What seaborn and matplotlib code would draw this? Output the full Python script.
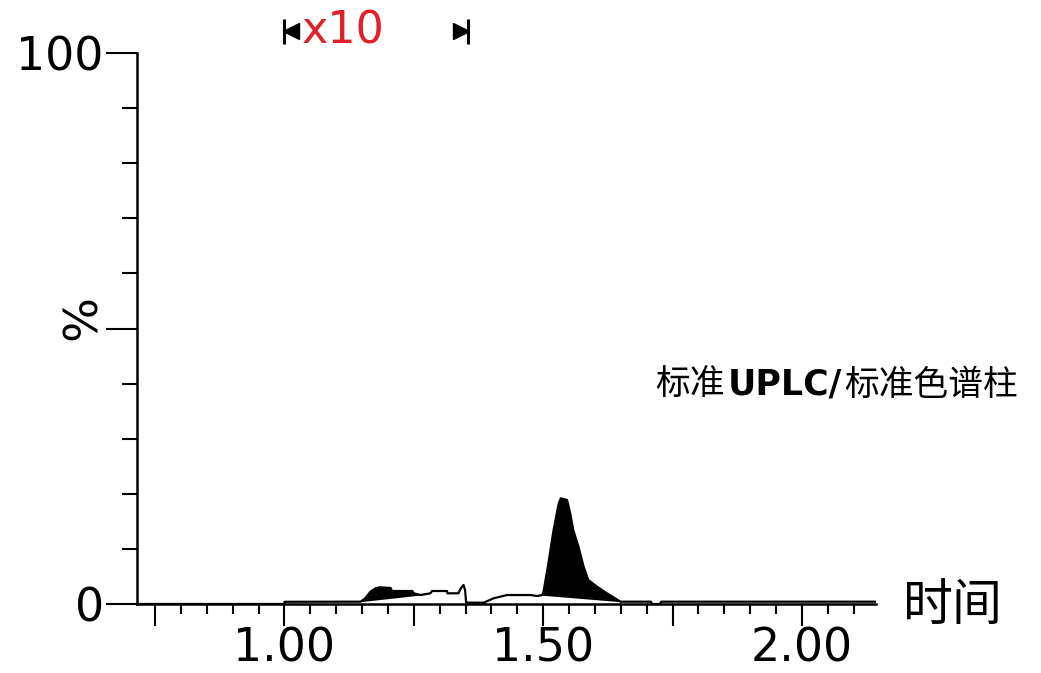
import numpy as np
import matplotlib
matplotlib.use("Agg")
import matplotlib.pyplot as plt
import matplotlib.transforms as mtransforms
from matplotlib.ticker import MultipleLocator
import seaborn as sns

# ---- data ----
times = [0.715, 1.000, 1.000, 1.147, 1.156, 1.166, 1.176, 1.184, 1.205, 1.208,
         1.247, 1.250, 1.263, 1.282, 1.285, 1.314, 1.315, 1.336, 1.341, 1.346,
         1.349, 1.351, 1.353, 1.385, 1.404, 1.430, 1.475, 1.488, 1.497, 1.500,
         1.510, 1.520, 1.530, 1.534, 1.546, 1.552, 1.558, 1.568, 1.578, 1.587,
         1.604, 1.623, 1.642, 1.649, 1.708, 1.710, 1.726, 1.728, 2.143]
intensity = [0.0, 0.0, 0.4, 0.42, 1.03, 2.23, 2.85, 3.03, 2.9, 2.36,
             2.36, 1.94, 1.63, 1.94, 2.36, 2.36, 1.94, 1.94, 2.9, 3.45,
             2.5, 0.24, 0.24, 0.24, 1.03, 1.63, 1.63, 1.45, 1.6, 1.94,
             7.39, 13.43, 18.28, 19.18, 18.87, 16.46, 13.43, 10.40, 6.77, 4.36,
             3.14, 1.94, 0.85, 0.42, 0.42, 0.0, 0.0, 0.42, 0.42]
peak_starts = [1.147, 1.497]
peak_ends = [1.263, 1.649]

x_major_ticks = [0.75, 1.00, 1.25, 1.50, 1.75, 2.00]
x_labeled_ticks = [1.00, 1.50, 2.00]
x_tick_labels = ["1.00", "1.50", "2.00"]
y_major_ticks = [0, 50, 100]
y_labeled_ticks = [0, 100]
y_tick_labels = ["0", "100"]

zoom_range = [1.00, 1.355]
zoom_label = "x10"
x_label = "时间"
y_label = "%"
annotation_parts = ["标准", "UPLC/", "标准色谱柱"]

# ---- style ----
sns.set_style("ticks")
plt.rcParams['font.family'] = ['DejaVu Sans', 'Noto Sans CJK SC']

W, H = 1041, 673
fig = plt.figure(figsize=(W / 100, H / 100), dpi=100)
ax = fig.add_axes([137 / W, 1 - 604 / H, (876 - 137) / W, (604 - 53) / H])

sns.lineplot(x=times, y=intensity, sort=False, estimator=None,
             color='black', linewidth=1.6, ax=ax)

# integrated peaks filled above a straight baseline
for s, e in zip(peak_starts, peak_ends):
    xx = np.linspace(s, e, 400)
    yy = np.interp(xx, times, intensity)
    base = np.linspace(yy[0], yy[-1], len(xx))
    ax.fill_between(xx, base, yy, color='black', linewidth=0)

ax.set_xlim(0.715, 2.143)
ax.set_ylim(0, 100)
for side in ['top', 'right']:
    ax.spines[side].set_visible(False)
for side in ['left', 'bottom']:
    ax.spines[side].set_linewidth(1.8)
    ax.spines[side].set_color('black')

ax.set_xticks(x_major_ticks)
ax.set_xticklabels([x_tick_labels[x_labeled_ticks.index(t)] if t in x_labeled_ticks else ""
                    for t in x_major_ticks])
ax.xaxis.set_minor_locator(MultipleLocator(0.05))
ax.set_yticks(y_major_ticks)
ax.set_yticklabels([y_tick_labels[y_labeled_ticks.index(t)] if t in y_labeled_ticks else ""
                    for t in y_major_ticks])
ax.yaxis.set_minor_locator(MultipleLocator(10))

ax.tick_params(axis='x', which='major', length=16, width=1.5, direction='out',
               pad=0, labelsize=33, colors='black')
ax.tick_params(axis='x', which='minor', length=7.5, width=1.5, direction='out', colors='black')
ax.tick_params(axis='y', which='major', length=22, width=1.5, direction='out',
               pad=2, labelsize=33, colors='black')
ax.tick_params(axis='y', which='minor', length=11, width=1.5, direction='out', colors='black')
ax.set_xlabel("")
ax.set_ylabel("")

# axis titles
fig.text(83 / W, 1 - 318 / H, y_label, rotation=90, ha='center', va='center',
         fontsize=34, color='black')
fig.text(903 / W, 1 - 606 / H, x_label, ha='left', va='center', fontsize=36,
         family=['Noto Sans CJK SC'], color='black')

# column annotation (three runs of text placed one after another)
ann_y = 1 - 385 / H
t1 = fig.text(655 / W, ann_y, annotation_parts[0], ha='left', va='center', fontsize=25,
              family=['Noto Sans CJK SC'], color='black')
t2 = fig.text(0, 0, annotation_parts[1], ha='left', va='center', fontsize=25,
              family=['DejaVu Sans'], fontweight='bold', color='black')
t3 = fig.text(0, 0, annotation_parts[2], ha='left', va='center', fontsize=25,
              family=['Noto Sans CJK SC'], color='black')
fig.canvas.draw()
r = fig.canvas.get_renderer()
bb1 = t1.get_window_extent(r)
t2.set_position(((bb1.x1 + 3) / W, ann_y))
fig.canvas.draw()
bb2 = t2.get_window_extent(r)
t3.set_position(((bb2.x1 + 2) / W, ann_y))

# x10 zoom markers
trans = mtransforms.blended_transform_factory(ax.transData, ax.transAxes)
my = 1.040
ax.plot([zoom_range[0]], [my], marker='|', ms=18, mew=2.2, color='black',
        transform=trans, clip_on=False)
ax.plot([zoom_range[0] + 0.0135], [my], marker='<', ms=11, color='black',
        transform=trans, clip_on=False)
ax.plot([zoom_range[1] - 0.0135], [my], marker='>', ms=11, color='black',
        transform=trans, clip_on=False)
ax.plot([zoom_range[1]], [my], marker='|', ms=18, mew=2.2, color='black',
        transform=trans, clip_on=False)
ax.text(zoom_range[0] + 0.033, my, zoom_label, transform=trans, color='#e0202a',
        fontsize=32, ha='left', va='center')

fig.savefig('out.png', dpi=100)
